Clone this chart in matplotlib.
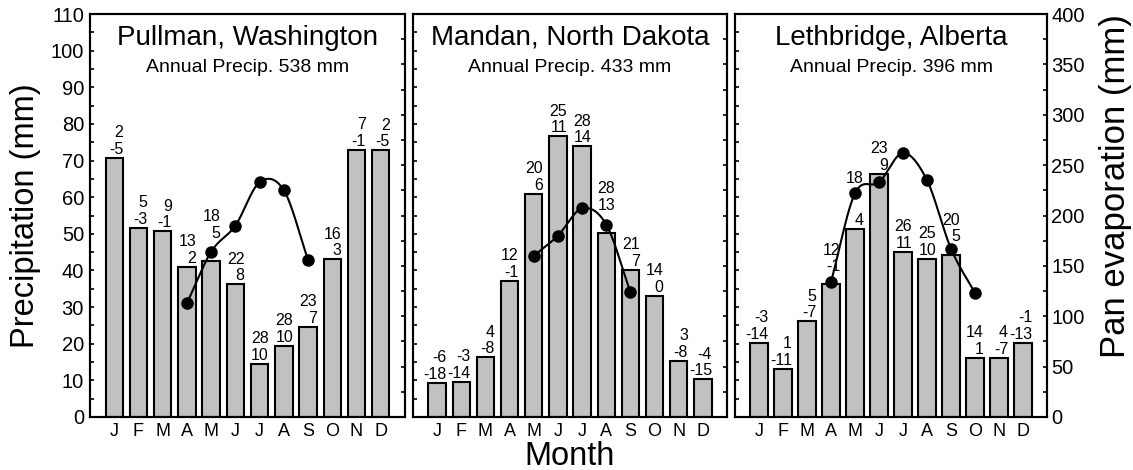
"""Monthly precipitation (bars), mean max/min temperature (labels) and pan evaporation
(dots + smooth curve) for three dryland sites."""

import numpy as np
import matplotlib
matplotlib.use("Agg")
from matplotlib import pyplot as plt
from matplotlib.ticker import MultipleLocator

plt.rcParams["font.family"] = ["Liberation Sans", "DejaVu Sans"]

MONTHS = ["J", "F", "M", "A", "M", "J", "J", "A", "S", "O", "N", "D"]

# Pullman, Washington
PULLMAN_PRECIP = [70.7, 51.6, 50.7, 41.0, 42.6, 36.2, 14.6, 19.4, 24.6, 43.0, 73.0, 72.8]
PULLMAN_TMAX = [2, 5, 9, 13, 18, 22, 28, 28, 23, 16, 7, 2]
PULLMAN_TMIN = [-5, -3, -1, 2, 5, 8, 10, 10, 7, 3, -1, -5]
PULLMAN_EVAP_MONTHS = [3, 4, 5, 6, 7, 8]
PULLMAN_EVAP = [113, 164, 190, 233, 225, 156]

# Mandan, North Dakota
MANDAN_PRECIP = [9.3, 9.6, 16.3, 37.2, 61.0, 76.6, 73.9, 50.2, 40.2, 33.0, 15.3, 10.3]
MANDAN_TMAX = [-6, -3, 4, 12, 20, 25, 28, 28, 21, 14, 3, -4]
MANDAN_TMIN = [-18, -14, -8, -1, 6, 11, 14, 13, 7, 0, -8, -15]
MANDAN_EVAP_MONTHS = [4, 5, 6, 7, 8]
MANDAN_EVAP = [160, 180, 207, 191, 124]

# Lethbridge, Alberta
LETH_PRECIP = [20.2, 13.1, 26.1, 36.2, 51.3, 66.3, 45.1, 43.1, 44.1, 16.1, 16.1, 20.2]
LETH_TMAX = [-3, 1, 5, 12, 18, 23, 26, 25, 20, 14, 4, -1]
LETH_TMIN = [-14, -11, -7, -1, 4, 9, 11, 10, 5, 1, -7, -13]
LETH_EVAP_MONTHS = [3, 4, 5, 6, 7, 8, 9]
LETH_EVAP = [134, 222, 233, 262, 235, 167, 123]

SITES = [
    ("Pullman, Washington", 538, PULLMAN_PRECIP, PULLMAN_TMAX, PULLMAN_TMIN,
     PULLMAN_EVAP_MONTHS, PULLMAN_EVAP),
    ("Mandan, North Dakota", 433, MANDAN_PRECIP, MANDAN_TMAX, MANDAN_TMIN,
     MANDAN_EVAP_MONTHS, MANDAN_EVAP),
    ("Lethbridge, Alberta", 396, LETH_PRECIP, LETH_TMAX, LETH_TMIN,
     LETH_EVAP_MONTHS, LETH_EVAP),
]

# label nudges (pixels): month -> (raise both lines, extra raise of the max line)
LABEL_NUDGE = [
    {4: (19, 0)},
    {7: (19, 0)},
    {3: (9, 0), 4: (0, 25), 8: (10, 0)},
]

AX_LEFT = [90 / 1133, 413 / 1133, 735 / 1133]
AX_WIDTH = [315 / 1133, 314 / 1133, 312 / 1133]
AX_BOTTOM = 1 - 417 / 470
AX_HEIGHT = 403 / 470
BAR_GRAY = "#c0c1c3"
LW = 1.5


def smooth_curve(x, y, per_seg=40):
    """Catmull-Rom style cubic Hermite curve through the points (drawing only)."""
    x = np.asarray(x, float)
    y = np.asarray(y, float)
    m = np.gradient(y, x)
    xs, ys = [], []
    for i in range(len(x) - 1):
        h = x[i + 1] - x[i]
        t = np.linspace(0, 1, per_seg, endpoint=(i == len(x) - 2))
        h00 = 2 * t ** 3 - 3 * t ** 2 + 1
        h10 = t ** 3 - 2 * t ** 2 + t
        h01 = -2 * t ** 3 + 3 * t ** 2
        h11 = t ** 3 - t ** 2
        xs.append(x[i] + t * h)
        ys.append(h00 * y[i] + h10 * h * m[i] + h01 * y[i + 1] + h11 * h * m[i + 1])
    return np.concatenate(xs), np.concatenate(ys)


fig = plt.figure(figsize=(11.33, 4.70), dpi=100)
x = np.arange(12)

for k, (name, annual, precip, tmax, tmin, ev_months, ev_vals) in enumerate(SITES):
    ax = fig.add_axes([AX_LEFT[k], AX_BOTTOM, AX_WIDTH[k], AX_HEIGHT])
    ax.bar(x, precip, width=0.72, color=BAR_GRAY, edgecolor="black", linewidth=LW, zorder=2)
    ax.set_xlim(-1, 12)
    ax.set_ylim(0, 110)
    ax.set_xticks(x)
    ax.set_xticklabels(MONTHS)
    ax.tick_params(axis="x", length=0, labelsize=13, pad=4.3)
    ax.yaxis.set_major_locator(MultipleLocator(10))
    ax.yaxis.set_minor_locator(MultipleLocator(5))
    ax.tick_params(axis="y", which="both", direction="in", length=3, width=1.2,
                   labelsize=14.5, pad=4.3, labelleft=(k == 0))
    for sp in ax.spines.values():
        sp.set_linewidth(LW)

    # temperature labels (max over min), right aligned to the bar's right edge
    for i in range(12):
        raise_both, raise_max = LABEL_NUDGE[k].get(i, (0, 0))
        y0 = 4 + raise_both
        ax.annotate(str(tmin[i]), (x[i] + 0.38, precip[i]), xytext=(0, y0),
                    textcoords="offset pixels", ha="right", va="baseline", fontsize=11.5, zorder=3)
        ax.annotate(str(tmax[i]), (x[i] + 0.38, precip[i]), xytext=(0, y0 + 16.7 + raise_max),
                    textcoords="offset pixels", ha="right", va="baseline", fontsize=11.5, zorder=3)

    ax.text(0.5, 1 - 31 / 403, name, transform=ax.transAxes, ha="center", va="baseline", fontsize=20)
    ax.text(0.5, 1 - 57.7 / 403, f"Annual Precip. {annual} mm", transform=ax.transAxes,
            ha="center", va="baseline", fontsize=14)

    ev = ax.twinx()
    ev.set_ylim(0, 400)
    xs, ys = smooth_curve(ev_months, ev_vals)
    ev.plot(xs, ys, color="black", linewidth=LW)
    ev.plot(ev_months, ev_vals, "o", color="black", markersize=8)
    ev.yaxis.set_major_locator(MultipleLocator(50))
    ev.yaxis.set_minor_locator(MultipleLocator(25))
    ev.tick_params(axis="y", which="both", direction="in", length=3, width=1.2,
                   labelsize=14.5, pad=3, labelright=(k == 2))
    for sp in ev.spines.values():
        sp.set_linewidth(LW)

fig.text(26 / 1133, 1 - 215.5 / 470, "Precipitation (mm)", rotation=90,
         ha="center", va="center", fontsize=23.5)
fig.text(1115.5 / 1133, 1 - 186 / 470, "Pan evaporation (mm)", rotation=90,
         ha="center", va="center", fontsize=25)
fig.text(570 / 1133, 1 - 465 / 470, "Month", ha="center", va="baseline", fontsize=23.5)

fig.savefig("out.png", dpi=100)
